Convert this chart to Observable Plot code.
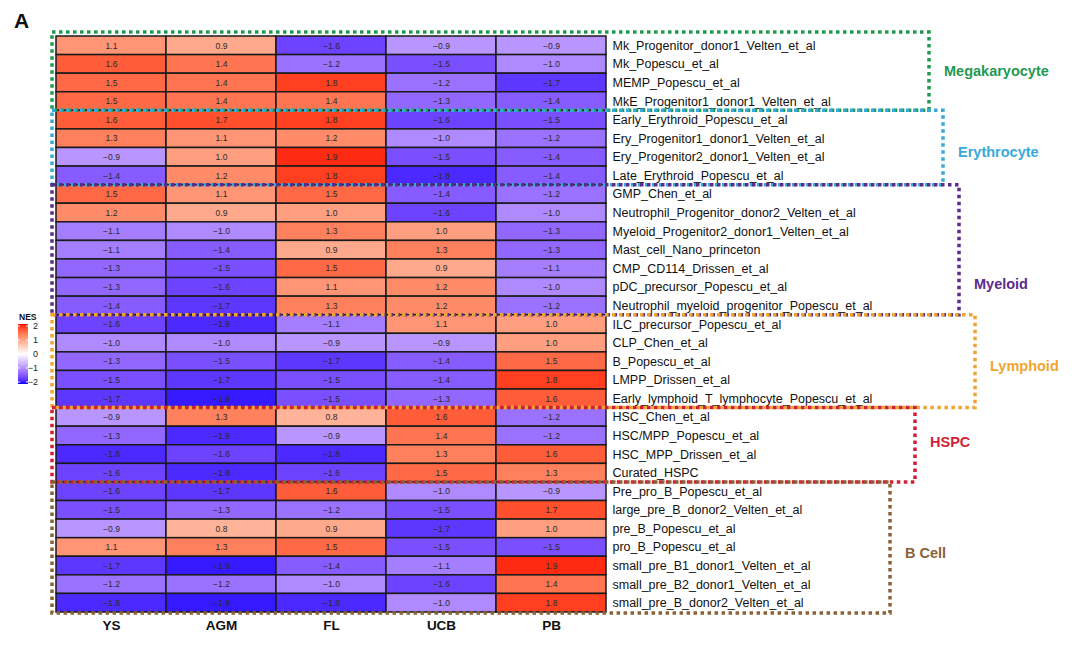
<!DOCTYPE html>
<html><head><meta charset="utf-8">
<script src="https://cdn.jsdelivr.net/npm/d3@7"></script>
<script src="https://cdn.jsdelivr.net/npm/@observablehq/plot@0.6"></script>
<style>body{margin:0;background:#fff} #chart{width:1080px;height:645px;}</style>
</head><body><div id="chart"></div>
<script>
// ---- data ----
const tissues = ["YS","AGM","FL","UCB","PB"];
const signatures = [
  "Mk_Progenitor_donor1_Velten_et_al","Mk_Popescu_et_al","MEMP_Popescu_et_al","MkE_Progenitor1_donor1_Velten_et_al",
  "Early_Erythroid_Popescu_et_al","Ery_Progenitor1_donor1_Velten_et_al","Ery_Progenitor2_donor1_Velten_et_al","Late_Erythroid_Popescu_et_al",
  "GMP_Chen_et_al","Neutrophil_Progenitor_donor2_Velten_et_al","Myeloid_Progenitor2_donor1_Velten_et_al","Mast_cell_Nano_princeton",
  "CMP_CD114_Drissen_et_al","pDC_precursor_Popescu_et_al","Neutrophil_myeloid_progenitor_Popescu_et_al",
  "ILC_precursor_Popescu_et_al","CLP_Chen_et_al","B_Popescu_et_al","LMPP_Drissen_et_al","Early_lymphoid_T_lymphocyte_Popescu_et_al",
  "HSC_Chen_et_al","HSC/MPP_Popescu_et_al","HSC_MPP_Drissen_et_al","Curated_HSPC",
  "Pre_pro_B_Popescu_et_al","large_pre_B_donor2_Velten_et_al","pre_B_Popescu_et_al","pro_B_Popescu_et_al",
  "small_pre_B1_donor1_Velten_et_al","small_pre_B2_donor1_Velten_et_al","small_pre_B_donor2_Velten_et_al"
];
const YS  = [1.1,1.6,1.5,1.5, 1.6,1.3,-0.9,-1.4, 1.5,1.2,-1.1,-1.1,-1.3,-1.3,-1.4, -1.6,-1.0,-1.3,-1.5,-1.7, -0.9,-1.3,-1.8,-1.6, -1.6,-1.5,-0.9,1.1,-1.7,-1.2,-1.8];
const AGM = [0.9,1.4,1.4,1.4, 1.7,1.1,1.0,1.2, 1.1,0.9,-1.0,-1.4,-1.5,-1.6,-1.7, -1.8,-1.0,-1.5,-1.7,-1.9, 1.3,-1.8,-1.6,-1.8, -1.7,-1.3,0.8,1.3,-1.9,-1.2,-1.9];
const FL  = [-1.6,-1.2,1.8,1.4, 1.8,1.2,1.9,1.8, 1.5,1.0,1.3,0.9,1.5,1.1,1.3, -1.1,-0.9,-1.7,-1.5,-1.5, 0.8,-0.9,-1.8,-1.6, 1.6,-1.2,0.9,1.5,-1.4,-1.0,-1.8];
const UCB = [-0.9,-1.5,-1.2,-1.3, -1.6,-1.0,-1.5,-1.8, -1.4,-1.6,1.0,1.3,0.9,1.2,1.2, 1.1,-0.9,-1.4,-1.4,-1.3, 1.6,1.4,1.3,1.5, -1.0,-1.5,-1.7,-1.5,-1.1,-1.6,-1.0];
const PB  = [-0.9,-1.0,-1.7,-1.4, -1.5,-1.2,-1.4,-1.4, -1.2,-1.0,-1.3,-1.3,-1.1,-1.0,-1.2, 1.0,1.0,1.5,1.8,1.6, -1.2,-1.2,1.6,1.3, -0.9,1.7,1.0,-1.5,1.9,1.4,1.8];
const groupNames = ["Megakaryocyte","Erythrocyte","Myeloid","Lymphoid","HSPC","B Cell"];
const groupSizes = [4,4,7,5,4,7];
const legendTicks = [2,1,0,-1,-2];

// ---- styles ----
const groupColors = ["#1f9a50","#38a9d8","#5b2b8e","#f0a530","#d11f35","#8a6236"];
const groupRight = [929,943,959,975,915,890];
const groupLabelY = [71,152,284,366,442,553];
const FONT = "'Liberation Sans', Arial, Helvetica, sans-serif";

const series = {YS, AGM, FL, UCB, PB};
const data = [];
tissues.forEach(t => signatures.forEach((s, i) => data.push({tissue: t, signature: s, nes: series[t][i]})));
const fmt = v => (v < 0 ? "\u2212" : "") + Math.abs(v).toFixed(1);

const plot = Plot.plot({
  width: 1080, height: 645,
  marginLeft: 56, marginRight: 474, marginTop: 36, marginBottom: 33,
  style: {fontFamily: FONT, background: "#fff", color: "#111"},
  x: {domain: tissues, padding: 0, round: false, label: null},
  y: {domain: signatures, padding: 0, round: false, label: null},
  color: {type: "linear", domain: [-2, 0, 2], range: ["blue", "white", "red"], interpolate: "lab", clamp: true},
  marks: [
    Plot.cell(data, {x: "tissue", y: "signature", fill: "nes", stroke: "#1a1a1a", strokeWidth: 1.5}),
    Plot.text(data, {x: "tissue", y: "signature", text: d => fmt(d.nes), fill: "#2a2a2a", fontSize: 8.5}),
    Plot.axisX({anchor: "bottom", tickSize: 0, tickPadding: 8, fontSize: 13.5, fontWeight: "bold", label: null}),
    Plot.axisY({anchor: "right", tickSize: 0, tickPadding: 6, fontSize: 12.5, label: null})
  ]
});

const svg = d3.select(plot);
const yS = plot.scale("y");
const cS = plot.scale("color");

// group boxes
const g = svg.append("g").attr("text-anchor", "start");
let idx = 0;
groupNames.forEach((name, k) => {
  const first = signatures[idx], last = signatures[idx + groupSizes[k] - 1];
  idx += groupSizes[k];
  let top = yS.apply(first), bottom = yS.apply(last) + yS.bandwidth;
  if (k === 0) top -= 4;
  if (k === groupNames.length - 1) bottom += 1;
  g.append("rect")
    .attr("x", 52).attr("y", top).attr("width", groupRight[k] - 52).attr("height", bottom - top)
    .attr("fill", "none").attr("stroke", groupColors[k]).attr("stroke-width", 3.5)
    .attr("stroke-dasharray", "3.5 3.5");
  g.append("text")
    .attr("x", groupRight[k] + 15).attr("y", groupLabelY[k]).attr("dy", "0.35em")
    .attr("text-anchor", "start")
    .attr("fill", groupColors[k]).attr("font-family", FONT).attr("font-weight", "bold")
    .attr("font-size", 14.5).text(name);
});

// panel letter
svg.append("text").attr("x", 14).attr("y", 28).attr("text-anchor", "start").attr("font-family", FONT)
  .attr("font-weight", "bold").attr("font-size", 21).attr("fill", "#111").text("A");

// colour legend
const lg = svg.append("g");
const ly = v => 354 - 14 * v;
const grad = svg.append("defs").append("linearGradient").attr("id", "nesgrad")
  .attr("x1", 0).attr("y1", 0).attr("x2", 0).attr("y2", 1);
d3.range(0, 1.0001, 0.05).forEach(t => {
  grad.append("stop").attr("offset", t).attr("stop-color", cS.apply(2 - 4 * t));
});
lg.append("text").attr("x", 19).attr("y", 320).attr("text-anchor", "start").attr("font-family", FONT).attr("font-weight", "bold")
  .attr("font-size", 8.5).attr("fill", "#111").text("NES");
lg.append("rect").attr("x", 18).attr("y", ly(2) - 2).attr("width", 10).attr("height", ly(-2) - ly(2) + 4)
  .attr("fill", "url(#nesgrad)");
legendTicks.forEach(v => {
  lg.append("line").attr("x1", 18).attr("x2", 20).attr("y1", ly(v)).attr("y2", ly(v)).attr("stroke", "#fff");
  lg.append("line").attr("x1", 26).attr("x2", 28).attr("y1", ly(v)).attr("y2", ly(v)).attr("stroke", "#fff");
  lg.append("text").attr("x", 38).attr("y", ly(v)).attr("dy", "0.35em").attr("text-anchor", "end")
    .attr("font-family", FONT).attr("font-size", 9).attr("fill", "#222").text(fmt(v).replace(".0", ""));
});

document.getElementById("chart").appendChild(plot);
</script>
</body></html>
